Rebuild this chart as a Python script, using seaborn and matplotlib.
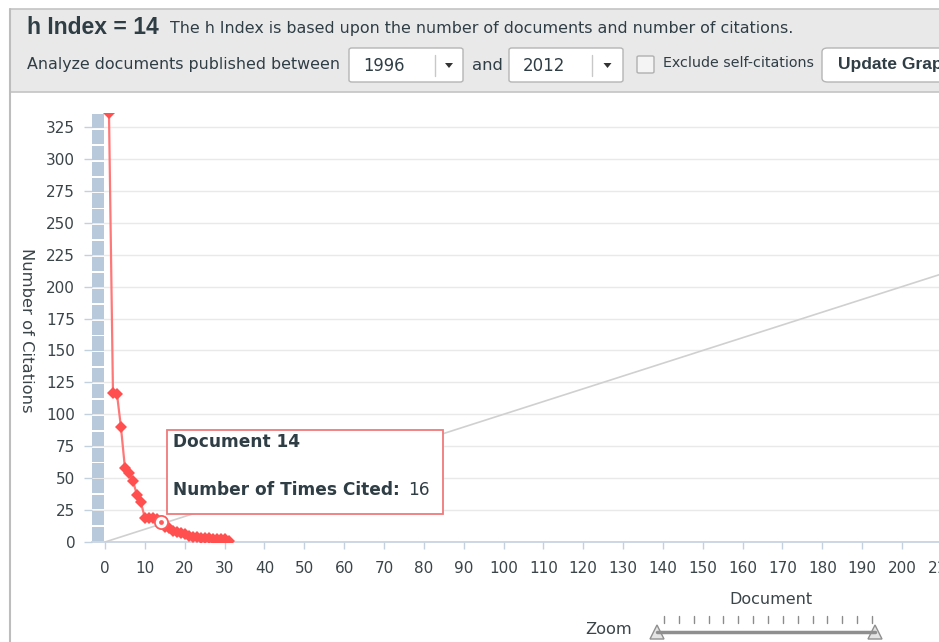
import numpy as np
import pandas as pd
import seaborn as sns
import matplotlib.pyplot as plt
from matplotlib.patches import Rectangle, FancyBboxPatch, Polygon
from matplotlib.lines import Line2D

# data
h_index = 14
documents = list(range(1, 32))
citations = [336, 117, 116, 90, 58, 54, 48, 37, 31, 19, 19, 19, 18, 16, 12,
             11, 9, 8, 7, 6, 5, 4, 4, 3, 3, 3, 2, 2, 2, 2, 1]
bar_segments = [12.44, 12.44, 12.44, 12.44, 12.44, 12.44, 12.44, 12.44, 12.44,
                12.44, 12.44, 12.44, 12.44, 12.44, 12.44, 12.44, 12.44, 12.44,
                12.44, 12.44, 12.44, 12.44, 12.44, 12.44, 12.44, 12.44, 12.44]
y_ticks = list(range(0, 326, 25))
x_ticks = list(range(0, 211, 10))
year_from, year_to = "1996", "2012"

df = pd.DataFrame({"Document": documents, "Citations": citations})

sns.set_theme(style="white")
plt.rcParams["font.family"] = ["DejaVu Sans"]

W, H = 939, 642
fig = plt.figure(figsize=(W / 100, H / 100), dpi=100)
fig.patch.set_facecolor("white")
renderer = fig.canvas.get_renderer()

def fx(x):
    return x / W

def fy(y):
    return 1 - y / H

def fit(txt, width_px):
    # scale a text so that its rendered width matches the reference
    w = txt.get_window_extent(renderer=renderer).width
    txt.set_fontsize(txt.get_fontsize() * width_px / w)
    return txt

dark = "#2f3d45"
grey_txt = "#3a4449"
axis_col = "#c3d1df"

# plot area in pixels: x=0 at 105, 3.985 px per doc; y=0 at 542, 1.277 px per citation
xpx = 3.985
left_val, right_val = -3.3, 240
ax_left = 105 + left_val * xpx
ax_right = 105 + right_val * xpx
ax = fig.add_axes([fx(ax_left), fy(542), (ax_right - ax_left) / W, (542 - 113) / H])
ax.set_xlim(left_val, right_val)
ax.set_ylim(0, 336)

ax.yaxis.grid(True, color="#e9e9e9", linewidth=1)
ax.xaxis.grid(False)

# blue column at the left
bottom = 0
for seg in bar_segments:
    ax.bar(-1.75, seg - 1.4, bottom=bottom + 0.7, width=2.9, color="#b9c9dc",
           linewidth=0, zorder=2)
    bottom += seg

ax.axline((0, 0), slope=1, color="#d0d0d0", linewidth=1.2, zorder=2)

sns.lineplot(data=df, x="Document", y="Citations", ax=ax, color="#ff7878",
             linewidth=1.6, marker="D", markersize=6.5, markeredgewidth=0,
             markerfacecolor="#ff4f4f", zorder=4)

hx = documents[h_index - 1]
hy = citations[h_index - 1]
ax.scatter([hx], [hy], s=90, facecolor="white", edgecolor="#ff5a5a", linewidth=1.3, zorder=6)
ax.scatter([hx], [hy], s=12, facecolor="#ff5a5a", linewidth=0, zorder=7)

for s in ["top", "right", "left"]:
    ax.spines[s].set_visible(False)
ax.spines["bottom"].set_color(axis_col)
ax.spines["bottom"].set_linewidth(1.2)

ax.set_yticks(y_ticks)
ax.set_xticks(x_ticks)
ax.tick_params(axis="y", which="both", left=True, length=6, width=1, color=axis_col,
               pad=6, labelsize=11, labelcolor=grey_txt)
ax.tick_params(axis="x", which="both", bottom=True, length=5, width=1, color=axis_col,
               pad=9, labelsize=11, labelcolor=grey_txt)

ax.set_xlabel("Document", fontsize=11.5, color=grey_txt, va="center")
ax.xaxis.set_label_coords(fx(771), fy(600), transform=fig.transFigure)
ax.set_ylabel("Number of Citations", fontsize=11.8, color=grey_txt, rotation=270,
              va="center", ha="center")
ax.yaxis.set_label_coords(fx(26), fy(330), transform=fig.transFigure)

# tooltip
fig.patches.append(Rectangle((fx(167), fy(514)), fx(443 - 167), (514 - 430) / H,
                             transform=fig.transFigure, facecolor="white",
                             edgecolor="#f07a7a", linewidth=1.3, zorder=10))
fit(fig.text(fx(173), fy(442), f"Document {hx}", weight="bold",
             fontsize=12, color=dark, va="center", ha="left", zorder=11), 127)
lead = fig.text(fx(173), fy(490), "Number of Times Cited:", weight="bold",
                fontsize=12, color=dark, va="center", ha="left", zorder=11)
fit(lead, 226)
lead_end = lead.get_window_extent(renderer=renderer).x1
fig.text((lead_end + 8) / W, fy(490), str(hy), fontsize=lead.get_fontsize(), color=dark,
         va="center", ha="left", zorder=11)

# frame of the widget
fig.patches.append(Rectangle((fx(10), fy(92)), fx(W), (92 - 9) / H, transform=fig.transFigure,
                             facecolor="#e9e9e9", edgecolor="none", zorder=0))
fig.add_artist(Line2D([fx(10), 1], [fy(9), fy(9)], color="#c4c4c4", linewidth=1.2))
fig.add_artist(Line2D([fx(10), 1], [fy(92), fy(92)], color="#c4c4c4", linewidth=1.2))
fig.add_artist(Line2D([fx(10), fx(10)], [fy(9), 0], color="#bdbdbd", linewidth=1.5))

# header text
fig.text(fx(27), fy(27), f"h Index = {h_index}", family="Liberation Sans", weight="bold",
         fontsize=16.5, color=dark, va="center", ha="left")
fit(fig.text(fx(170), fy(28), "The h Index is based upon the number of documents and number of citations.",
             fontsize=10, color=dark, va="center", ha="left"), 618)
fit(fig.text(fx(27), fy(65), "Analyze documents published between", fontsize=10, color=dark,
             va="center", ha="left"), 313)
fit(fig.text(fx(472), fy(65), "and", fontsize=10, color=dark, va="center", ha="left"), 31)
fit(fig.text(fx(663), fy(63), "Exclude self-citations", fontsize=9, color=dark,
             va="center", ha="left"), 152)

def dropdown(x0, x1, divider, label):
    fig.patches.append(FancyBboxPatch((fx(x0), fy(82)), fx(x1 - x0), 34 / H,
                                      boxstyle="round,pad=0,rounding_size=0.003",
                                      transform=fig.transFigure, facecolor="white",
                                      edgecolor="#b5b5b5", linewidth=1, zorder=1))
    fig.add_artist(Line2D([fx(divider), fx(divider)], [fy(55), fy(76)], color="#c8c8c8",
                          linewidth=1))
    fit(fig.text(fx(x0 + 14), fy(66), label, fontsize=11, color=dark, va="center",
                 ha="left"), 42)
    cx = (divider + x1) / 2
    fig.patches.append(Polygon([(fx(cx - 4), fy(63)), (fx(cx + 4), fy(63)), (fx(cx), fy(68))],
                               closed=True, transform=fig.transFigure, facecolor="#333333",
                               edgecolor="none"))

dropdown(349, 463, 435, year_from)
dropdown(509, 623, 592, year_to)

fig.patches.append(FancyBboxPatch((fx(637), fy(73)), fx(17), 17 / H,
                                  boxstyle="round,pad=0,rounding_size=0.002",
                                  transform=fig.transFigure, facecolor="#f4f4f4",
                                  edgecolor="#b0b0b0", linewidth=1))
fig.patches.append(FancyBboxPatch((fx(822), fy(82)), fx(140), 34 / H,
                                  boxstyle="round,pad=0,rounding_size=0.006",
                                  transform=fig.transFigure, facecolor="white",
                                  edgecolor="#b5b5b5", linewidth=1))
fig.text(fx(838), fy(65), "Update Graph", family="Liberation Sans", weight="bold",
         fontsize=12.5, color=dark, va="center", ha="left")

# zoom slider
fit(fig.text(fx(585), fy(630), "Zoom", fontsize=11.5, color=grey_txt, va="center",
             ha="left"), 47)
for tx in np.linspace(664, 872, 15):
    fig.add_artist(Line2D([fx(tx), fx(tx)], [fy(616), fy(623)], color="#8c8c8c", linewidth=1))
fig.add_artist(Line2D([fx(657), fx(875)], [fy(632), fy(632)], color="#8f8f8f", linewidth=2.5))
for hxp in (657, 875):
    fig.patches.append(Polygon([(fx(hxp - 7), fy(639)), (fx(hxp + 7), fy(639)), (fx(hxp), fy(625))],
                               closed=True, transform=fig.transFigure, facecolor="#e4e4e4",
                               edgecolor="#909090", linewidth=1))

plt.savefig("out.png", dpi=100)
